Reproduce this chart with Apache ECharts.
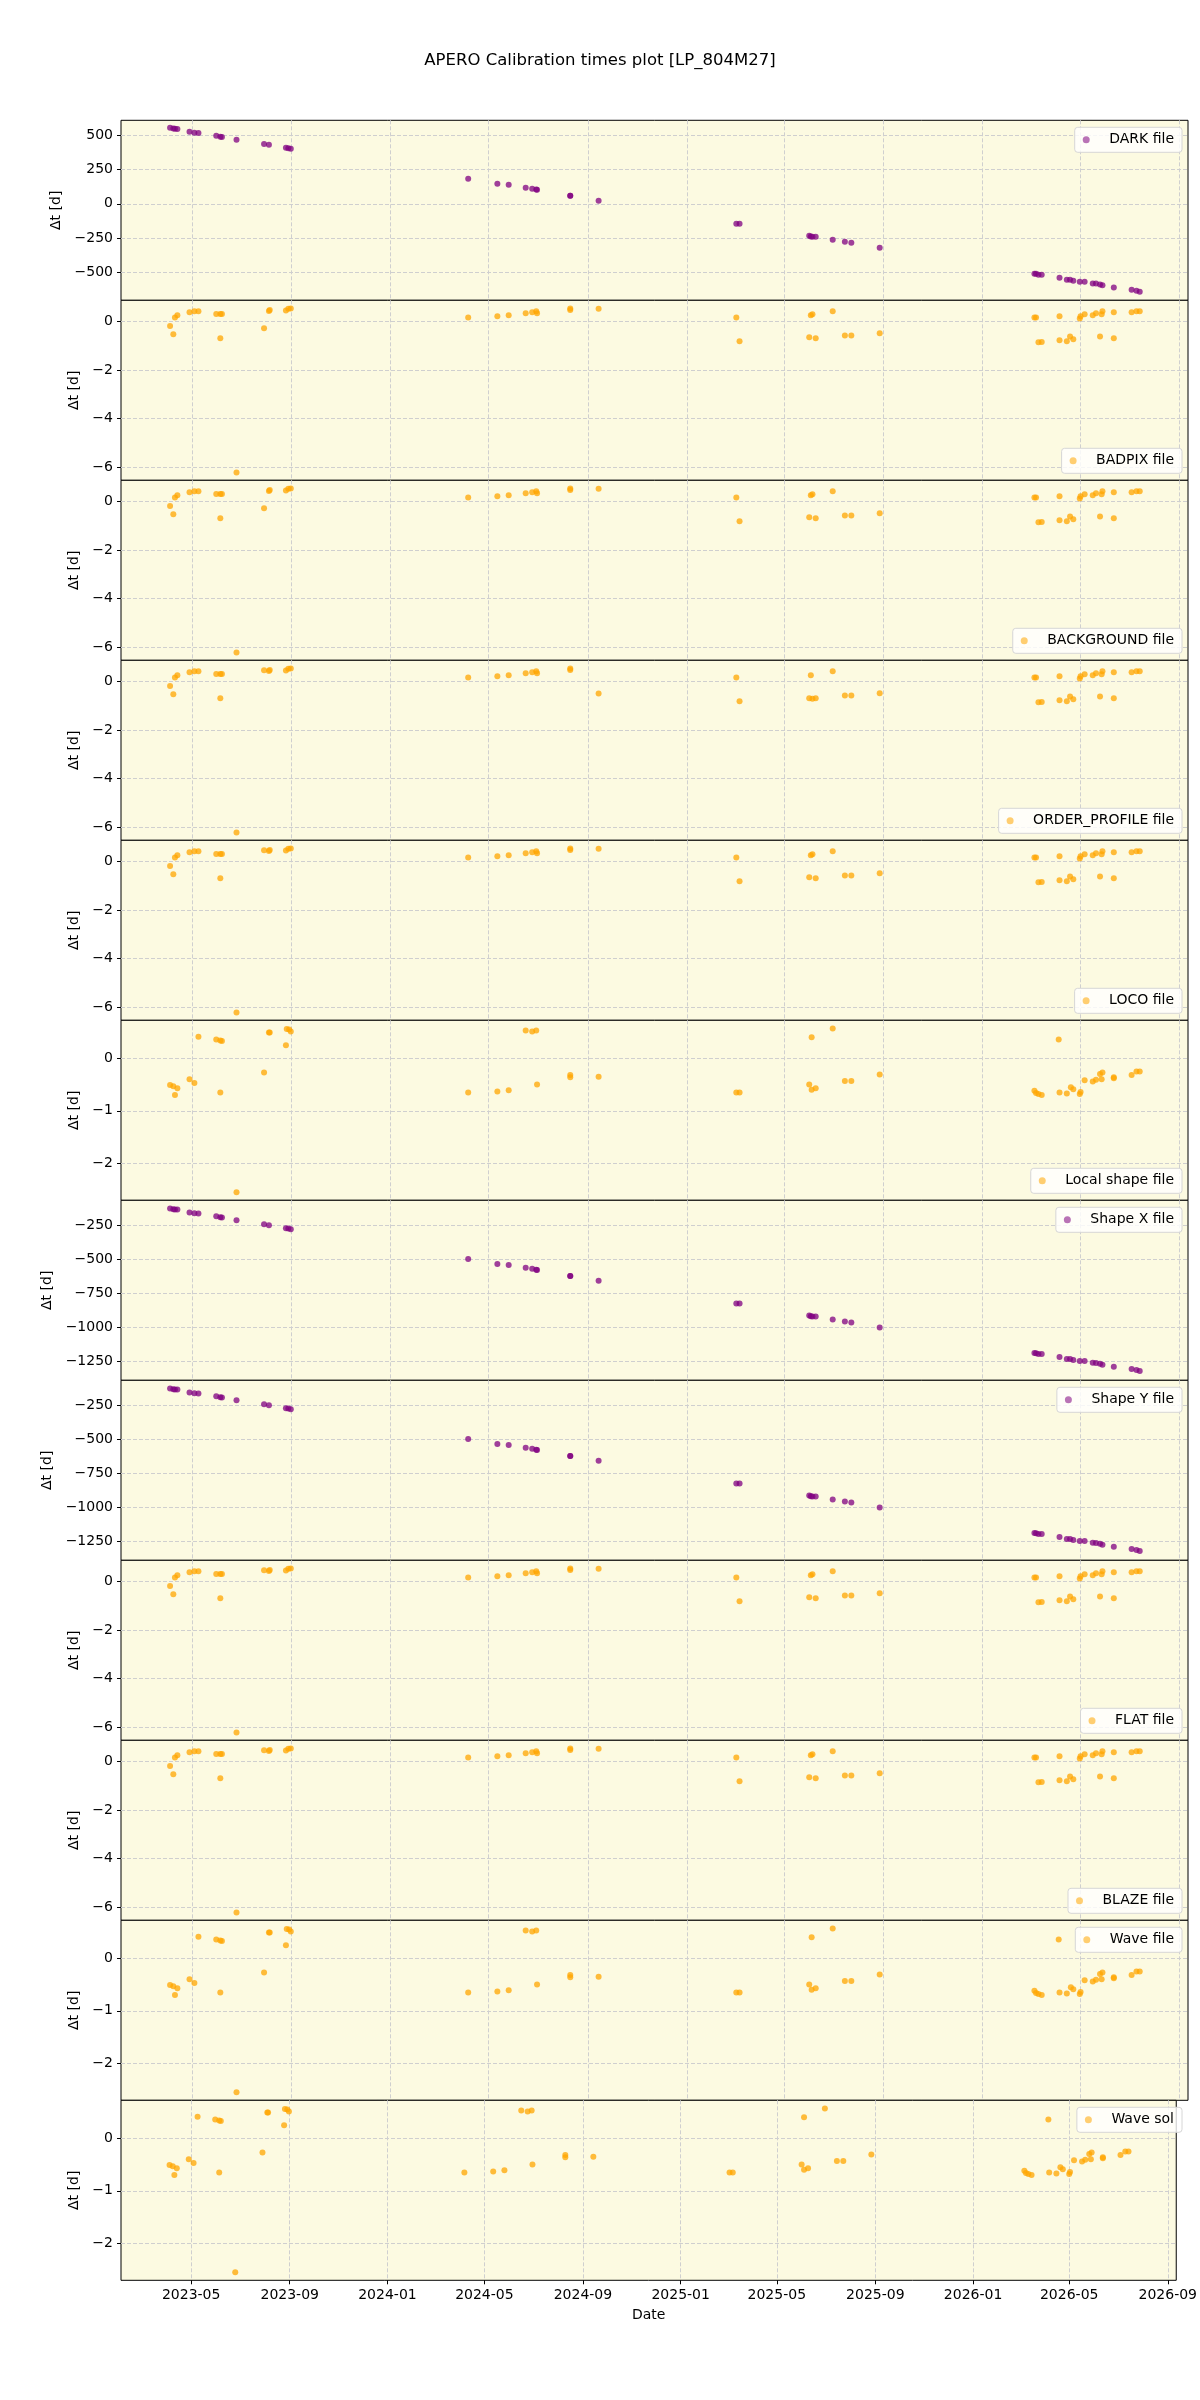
<!DOCTYPE html>
<html><head><meta charset="utf-8">
<script src="https://cdn.jsdelivr.net/npm/echarts@6/dist/echarts.min.js"></script>
<style>html,body{margin:0;padding:0;background:#fff}#c{width:1200px;height:2400px}</style>
</head><body><div id="c"></div><script>
// ---------------- data ----------------
const darkDates = ['2023-04-04','2023-04-08','2023-04-10','2023-04-13','2023-04-28','2023-05-04','2023-05-09','2023-05-31','2023-06-05','2023-06-07','2023-06-25','2023-07-29','2023-08-04','2023-08-25','2023-08-28','2023-08-31','2024-04-06','2024-05-12','2024-05-26','2024-06-16','2024-06-24','2024-06-29','2024-06-30','2024-08-10','2024-08-10','2024-09-14','2025-03-03','2025-03-07','2025-06-01','2025-06-03','2025-06-05','2025-06-09','2025-06-30','2025-07-15','2025-07-23','2025-08-27','2026-03-06','2026-03-08','2026-03-11','2026-03-15','2026-04-06','2026-04-15','2026-04-19','2026-04-23','2026-05-01','2026-05-07','2026-05-17','2026-05-21','2026-05-26','2026-05-29','2026-06-12','2026-07-04','2026-07-10','2026-07-14'];
const darkValues = [554,549,547,546,525,518,517,496,489,488,467,437,430,408,406,401,182,146,139,117,110,104,102,58,58,22,-146,-146,-233,-238,-240,-240,-262,-277,-284,-321,-510,-511,-517,-517,-539,-554,-554,-561,-568,-568,-581,-582,-588,-595,-610,-627,-634,-641];

const shapeXDates = darkDates;
const shapeXValues = [-126,-131,-133,-134,-155,-162,-163,-184,-191,-192,-213,-243,-250,-272,-274,-279,-498,-534,-541,-563,-570,-576,-578,-622,-622,-658,-826,-826,-913,-918,-920,-920,-942,-957,-964,-1001,-1190,-1191,-1197,-1197,-1219,-1234,-1234,-1241,-1248,-1248,-1261,-1262,-1268,-1275,-1290,-1307,-1314,-1321];
const shapeYDates = darkDates;
const shapeYValues = [-126,-131,-133,-134,-155,-162,-163,-184,-191,-192,-213,-243,-250,-272,-274,-279,-498,-534,-541,-563,-570,-576,-578,-622,-622,-658,-826,-826,-913,-918,-920,-920,-942,-957,-964,-1001,-1190,-1191,-1197,-1197,-1219,-1234,-1234,-1241,-1248,-1248,-1261,-1262,-1268,-1275,-1290,-1307,-1314,-1321];

const badpixDates = ['2023-04-04','2023-04-08','2023-04-10','2023-04-13','2023-04-28','2023-05-04','2023-05-09','2023-05-31','2023-06-05','2023-06-05','2023-06-07','2023-06-25','2023-07-29','2023-08-04','2023-08-05','2023-08-25','2023-08-28','2023-08-31','2024-04-06','2024-05-12','2024-05-26','2024-06-16','2024-06-24','2024-06-29','2024-06-30','2024-08-10','2024-08-10','2024-09-14','2025-03-03','2025-03-07','2025-06-01','2025-06-03','2025-06-05','2025-06-09','2025-06-30','2025-07-15','2025-07-23','2025-08-27','2026-03-06','2026-03-08','2026-03-11','2026-03-15','2026-04-06','2026-04-06','2026-04-15','2026-04-19','2026-04-23','2026-05-01','2026-05-02','2026-05-07','2026-05-17','2026-05-21','2026-05-26','2026-05-28','2026-05-29','2026-06-12','2026-06-12','2026-07-04','2026-07-10','2026-07-14'];
const badpixValues = [-0.19,-0.53,0.16,0.25,0.37,0.41,0.41,0.30,0.30,-0.70,0.30,-6.21,-0.29,0.42,0.46,0.44,0.52,0.53,0.16,0.21,0.25,0.33,0.37,0.41,0.33,0.53,0.46,0.52,0.16,-0.82,-0.66,0.25,0.29,-0.70,0.41,-0.58,-0.58,-0.49,0.16,0.16,-0.86,-0.85,0.21,-0.78,-0.82,-0.62,-0.74,0.12,0.21,0.29,0.25,0.33,-0.62,0.29,0.41,0.37,-0.70,0.37,0.41,0.41];

const backgroundDates = badpixDates;
const backgroundValues = badpixValues;
const orderProfileDates = badpixDates;
const orderProfileValues = [-0.19,-0.53,0.16,0.25,0.37,0.41,0.41,0.30,0.30,-0.70,0.30,-6.21,0.45,0.42,0.46,0.44,0.52,0.53,0.16,0.21,0.25,0.33,0.37,0.41,0.33,0.53,0.46,-0.50,0.16,-0.82,-0.70,0.25,-0.72,-0.70,0.41,-0.58,-0.58,-0.49,0.16,0.16,-0.86,-0.85,0.21,-0.78,-0.82,-0.62,-0.74,0.12,0.21,0.29,0.25,0.33,-0.62,0.29,0.41,0.37,-0.70,0.37,0.41,0.41];
const locoDates = badpixDates;
const locoValues = [-0.19,-0.53,0.16,0.25,0.37,0.41,0.41,0.30,0.30,-0.70,0.30,-6.21,0.45,0.42,0.46,0.44,0.52,0.53,0.16,0.21,0.25,0.33,0.37,0.41,0.33,0.53,0.46,0.52,0.16,-0.82,-0.66,0.25,0.29,-0.70,0.41,-0.58,-0.58,-0.49,0.16,0.16,-0.86,-0.85,0.21,-0.78,-0.82,-0.62,-0.74,0.12,0.21,0.29,0.25,0.33,-0.62,0.29,0.41,0.37,-0.70,0.37,0.41,0.41];
const flatDates = badpixDates;
const flatValues = locoValues;
const blazeDates = badpixDates;
const blazeValues = locoValues;

const localShapeDates = ['2023-04-04','2023-04-08','2023-04-10','2023-04-13','2023-04-28','2023-05-04','2023-05-09','2023-05-31','2023-06-05','2023-06-07','2023-06-05','2023-06-25','2023-07-29','2023-08-04','2023-08-05','2023-08-25','2023-08-26','2023-08-29','2023-08-31','2024-04-06','2024-05-12','2024-05-26','2024-06-16','2024-06-24','2024-06-29','2024-06-30','2024-08-10','2024-08-10','2024-09-14','2025-03-03','2025-03-07','2025-06-01','2025-06-04','2025-06-04','2025-06-09','2025-06-30','2025-07-15','2025-07-23','2025-08-27','2026-03-06','2026-03-08','2026-03-11','2026-03-15','2026-04-05','2026-04-06','2026-04-15','2026-04-20','2026-04-23','2026-05-01','2026-05-02','2026-05-07','2026-05-17','2026-05-21','2026-05-26','2026-05-28','2026-05-29','2026-06-12','2026-06-12','2026-07-04','2026-07-10','2026-07-14'];
const localShapeValues = [-0.51,-0.53,-0.70,-0.57,-0.40,-0.47,0.41,0.36,0.34,0.33,-0.65,-2.55,-0.27,0.49,0.49,0.25,0.56,0.55,0.51,-0.65,-0.63,-0.61,0.53,0.51,0.53,-0.50,-0.32,-0.36,-0.35,-0.65,-0.65,-0.50,-0.60,0.40,-0.57,0.57,-0.43,-0.43,-0.31,-0.62,-0.66,-0.68,-0.70,0.36,-0.65,-0.67,-0.55,-0.59,-0.68,-0.64,-0.42,-0.44,-0.41,-0.30,-0.40,-0.27,-0.36,-0.38,-0.32,-0.25,-0.25];
const waveFileDates = localShapeDates;
const waveFileValues = localShapeValues;
const waveSolDates = localShapeDates;
const waveSolValues = localShapeValues;

const xTickDates = ['2023-05-01','2023-09-01','2024-01-01','2024-05-01','2024-09-01','2025-01-01','2025-05-01','2025-09-01','2026-01-01','2026-05-01','2026-09-01'];
const xTickLabels = ['2023-05','2023-09','2024-01','2024-05','2024-09','2025-01','2025-05','2025-09','2026-01','2026-05','2026-09'];
const darkTicks = [-500,-250,0,250,500];
const shapeTicks = [-1250,-1000,-750,-500,-250];
const smallTicks = [-6,-4,-2,0];
const waveTicks = [-2,-1,0];

// ---------------- chart ----------------
const DAY = 86400000;
function ts(d){const p=d.split('-').map(Number);return Date.UTC(p[0],p[1]-1,p[2]);}
const xTickVals = xTickDates.map(ts);
const xMin = ts('2023-05-01') - 87.6*DAY;
const xMax = ts('2026-09-01') + 10.6*DAY;
const labelMap = {}; xTickVals.forEach((v,i)=>labelMap[v]=xTickLabels[i]);

const PURPLE='#800080', ORANGE='#ffa500';
const panels = [
  {name:'DARK file', d:darkDates, v:darkValues, c:PURPLE, min:-704, max:609, t:darkTicks, top:true, gap:48},
  {name:'BADPIX file', d:badpixDates, v:badpixValues, c:ORANGE, min:-6.534, max:0.863, t:smallTicks, top:false, gap:33},
  {name:'BACKGROUND file', d:backgroundDates, v:backgroundValues, c:ORANGE, min:-6.534, max:0.863, t:smallTicks, top:false, gap:33},
  {name:'ORDER_PROFILE file', d:orderProfileDates, v:orderProfileValues, c:ORANGE, min:-6.534, max:0.863, t:smallTicks, top:false, gap:33},
  {name:'LOCO file', d:locoDates, v:locoValues, c:ORANGE, min:-6.534, max:0.863, t:smallTicks, top:false, gap:33},
  {name:'Local shape file', d:localShapeDates, v:localShapeValues, c:ORANGE, min:-2.705, max:0.724, t:waveTicks, top:false, gap:33},
  {name:'Shape X file', d:shapeXDates, v:shapeXValues, c:PURPLE, min:-1390, max:-66, t:shapeTicks, top:true, gap:54},
  {name:'Shape Y file', d:shapeYDates, v:shapeYValues, c:PURPLE, min:-1390, max:-66, t:shapeTicks, top:true, gap:54},
  {name:'FLAT file', d:flatDates, v:flatValues, c:ORANGE, min:-6.534, max:0.863, t:smallTicks, top:false, gap:33},
  {name:'BLAZE file', d:blazeDates, v:blazeValues, c:ORANGE, min:-6.534, max:0.863, t:smallTicks, top:false, gap:33},
  {name:'Wave file', d:waveFileDates, v:waveFileValues, c:ORANGE, min:-2.705, max:0.724, t:waveTicks, top:true, gap:33},
  {name:'Wave sol', d:waveSolDates, v:waveSolValues, c:ORANGE, min:-2.705, max:0.724, t:waveTicks, top:true, gap:33}
];

const FONT = 'DejaVu Sans';
const TOP0 = 120.3, PH = 180, LEFT = 121, RIGHT = 12;
const grid=[], xAxis=[], yAxis=[], series=[], legend=[];
const N = panels.length;
panels.forEach((p,i)=>{
  const top = TOP0 + i*PH;
  grid.push({left:LEFT, right:RIGHT, top:top, height:PH, show:true, backgroundColor:'#fcfae1', borderColor:'#000', borderWidth:1, containLabel:false});
  const last = i===N-1;
  xAxis.push({type:'value', gridIndex:i, min:xMin, max:xMax, position:'bottom',
    axisLine:{show:false, onZero:false},
    axisTick:{show:last, customValues:xTickVals, length:4, lineStyle:{color:'#000'}},
    axisLabel:{show:last, customValues:xTickVals, margin:8, fontSize:14, color:'#000', fontFamily:FONT, formatter:v=>labelMap[v]||''},
    splitLine:{show:true, lineStyle:{color:'#cfcfcf', type:[4,2], width:1}},
    name: last?'Date':'', nameLocation:'middle', nameGap:28, nameTextStyle:{fontSize:14,color:'#000',fontFamily:FONT}
  });
  yAxis.push({type:'value', gridIndex:i, min:p.min, max:p.max, position:'left',
    axisLine:{show:false, onZero:false},
    axisTick:{show:true, customValues:p.t, length:4, lineStyle:{color:'#000'}},
    axisLabel:{customValues:p.t, margin:8, fontSize:14, color:'#000', fontFamily:FONT, formatter:v=>String(v).replace('-','\u2212')},
    splitLine:{show:true, lineStyle:{color:'#cfcfcf', type:[4,2], width:1}},
    name:'\u0394t [d]', nameLocation:'middle', nameRotate:90, nameGap:p.gap,
    nameTextStyle:{fontSize:14,color:'#000',fontFamily:FONT}
  });
  series.push({type:'scatter', name:p.name, xAxisIndex:i, yAxisIndex:i, symbol:'circle', symbolSize:6,
    itemStyle:{color:p.c, opacity:0.75}, emphasis:{disabled:true}, animation:false,
    data:p.d.map((d,k)=>[ts(d), p.v[k]])});
  legend.push({data:[p.name], right:18, top: p.top ? top+7 : top+148, orient:'horizontal',
    backgroundColor:'rgba(255,255,255,0.8)', borderColor:'#d6d6d6', borderWidth:1, borderRadius:3,
    padding:[5,8,5,8], itemWidth:24, itemHeight:7, icon:'circle', selectedMode:false,
    itemStyle:{opacity:0.55},
    textStyle:{fontSize:14, color:'#000', fontFamily:FONT, lineHeight:15, padding:[0,0,0,6]}});
});

const chart = echarts.init(document.getElementById('c'), null, {renderer:'canvas', width:1200, height:2400});
chart.setOption({
  animation:false,
  backgroundColor:'#fff',
  title:{text:'APERO Calibration times plot [LP_804M27]', left:'center', top:47,
    textStyle:{fontSize:16.5, fontWeight:'normal', color:'#000', fontFamily:FONT}},
  grid, xAxis, yAxis, series, legend
});
</script></body></html>
